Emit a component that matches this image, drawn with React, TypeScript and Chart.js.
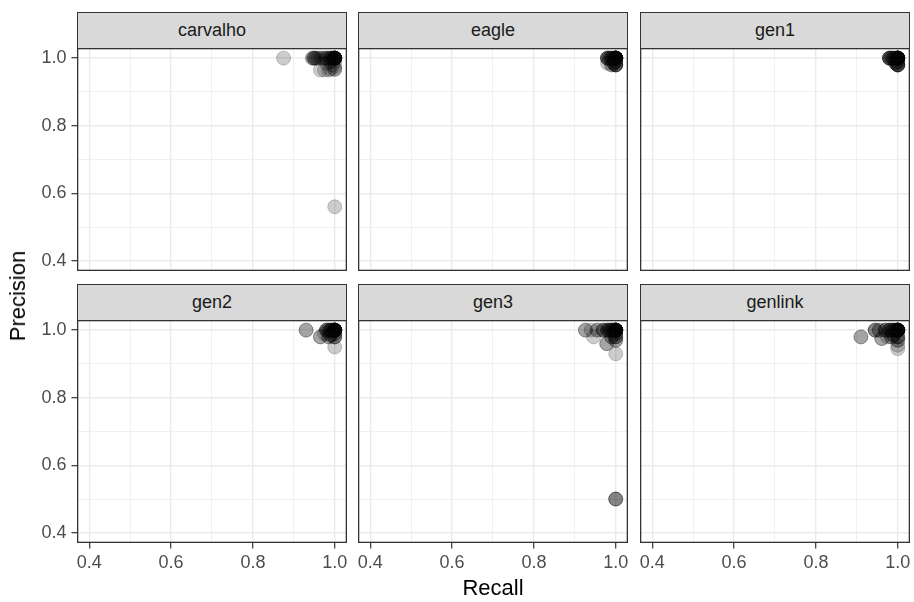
import React, { useEffect, useRef } from 'react';
import { Chart, registerables } from 'chart.js';

Chart.register(...registerables);

// ---------- data ----------
const facetNames = ['carvalho', 'eagle', 'gen1', 'gen2', 'gen3', 'genlink'];

const carvalhoRecall = [0.875, 1.0, 0.945, 0.947, 0.95, 0.95, 0.952, 0.955, 0.96, 0.965, 0.97, 0.975, 0.98, 0.98, 0.985, 0.99, 0.99, 0.995, 0.995, 0.99, 1, 1, 1, 1, 1, 1, 1, 1, 1, 1, 1, 1, 0.965, 0.975, 0.985, 0.99, 1, 1, 1, 0.995, 0.98, 0.99, 1];
const carvalhoPrecision = [1, 0.56, 1, 1, 1, 1, 1, 1, 1, 1, 1, 1, 1, 1, 1, 1, 1, 1, 1, 1, 1, 1, 1, 1, 1, 1, 1, 1, 1, 1, 1, 1, 0.965, 0.965, 0.965, 0.967, 0.967, 0.967, 0.975, 0.98, 0.985, 0.99, 0.99];

const eagleRecall = [0.98, 0.98, 0.98, 0.98, 0.985, 0.985, 0.99, 0.99, 0.99, 0.995, 0.995, 1, 1, 1, 1, 1, 1, 1, 1, 1, 1, 1, 1, 1, 1, 1, 1, 0.98, 0.99, 0.99, 1, 1, 1, 1, 1, 1, 1, 0.995, 0.995];
const eaglePrecision = [1, 1, 1, 1, 1, 1, 1, 1, 1, 1, 1, 1, 1, 1, 1, 1, 1, 1, 1, 1, 1, 1, 1, 1, 1, 1, 1, 0.985, 0.98, 0.98, 0.98, 0.98, 0.98, 0.98, 0.98, 0.99, 0.99, 0.985, 0.985];

const gen1Recall = [0.98, 0.98, 0.98, 0.98, 0.98, 0.985, 0.985, 0.99, 0.99, 0.99, 0.995, 0.995, 1, 1, 1, 1, 1, 1, 1, 1, 1, 1, 1, 1, 1, 1, 1, 1, 1, 1, 1, 1, 1, 1, 0.995, 0.995, 1, 1];
const gen1Precision = [1, 1, 1, 1, 1, 1, 1, 1, 1, 1, 1, 1, 1, 1, 1, 1, 1, 1, 1, 1, 1, 1, 1, 1, 1, 1, 1, 1, 0.98, 0.98, 0.98, 0.98, 0.98, 0.98, 0.985, 0.985, 0.99, 0.99];

const gen2Recall = [0.93, 0.93, 0.965, 0.965, 0.975, 0.98, 0.98, 0.98, 0.985, 0.985, 0.99, 0.99, 0.99, 0.995, 0.995, 1, 1, 1, 1, 1, 1, 1, 1, 1, 1, 1, 1, 1, 1, 0.985, 0.985, 0.99, 0.99, 1, 1, 1, 1, 1, 1];
const gen2Precision = [1, 1, 0.98, 0.98, 0.99, 1, 1, 1, 1, 1, 1, 1, 1, 1, 1, 1, 1, 1, 1, 1, 1, 1, 1, 1, 1, 1, 1, 1, 1, 0.98, 0.98, 0.985, 0.985, 0.98, 0.98, 0.98, 0.99, 0.99, 0.95];

const gen3Recall = [0.926, 0.926, 0.94, 0.946, 0.955, 0.955, 0.97, 0.97, 0.97, 0.98, 0.98, 0.98, 0.985, 0.985, 0.99, 0.99, 0.99, 0.995, 0.995, 1, 1, 1, 1, 1, 1, 1, 1, 1, 1, 1, 1, 1, 1, 0.978, 0.978, 0.99, 0.99, 1, 1, 1, 1, 1, 1, 1, 1, 1, 1, 1];
const gen3Precision = [1, 1, 1, 0.98, 1, 1, 1, 1, 1, 1, 1, 1, 1, 1, 1, 1, 1, 1, 1, 1, 1, 1, 1, 1, 1, 1, 1, 1, 1, 1, 1, 1, 1, 0.96, 0.96, 0.98, 0.98, 0.98, 0.98, 0.98, 0.97, 0.97, 0.99, 0.99, 0.93, 0.5, 0.5, 0.5];

const genlinkRecall = [0.91, 0.91, 0.945, 0.945, 0.945, 0.955, 0.955, 0.961, 0.961, 0.97, 0.97, 0.97, 0.975, 0.98, 0.98, 0.98, 0.985, 0.985, 0.99, 0.99, 0.99, 0.995, 0.995, 1, 1, 1, 1, 1, 1, 1, 1, 1, 1, 1, 1, 1, 1, 0.985, 0.985, 0.99, 0.99, 1, 1, 1, 1, 1, 1, 1];
const genlinkPrecision = [0.98, 0.98, 1, 1, 1, 1, 1, 0.975, 0.975, 1, 1, 1, 0.98, 1, 1, 1, 1, 1, 1, 1, 1, 1, 1, 1, 1, 1, 1, 1, 1, 1, 1, 1, 1, 1, 1, 1, 1, 0.98, 0.98, 0.985, 0.985, 0.98, 0.98, 0.98, 0.97, 0.97, 0.955, 0.945];

const recallByFacet = [carvalhoRecall, eagleRecall, gen1Recall, gen2Recall, gen3Recall, genlinkRecall];
const precisionByFacet = [carvalhoPrecision, eaglePrecision, gen1Precision, gen2Precision, gen3Precision, genlinkPrecision];

const majorBreaks = [0.4, 0.6, 0.8, 1.0];
const minorBreaks = [0.5, 0.7, 0.9];
const xTickLabels = ['0.4', '0.6', '0.8', '1.0'];
const yTickLabels = ['0.4', '0.6', '0.8', '1.0'];
const axisMin = 0.37;
const axisMax = 1.03;

const xTitle = 'Recall';
const yTitle = 'Precision';

// ---------- layout ----------
const PANEL_LEFTS = [77, 358, 640];
const PANEL_W = 270;
const STRIP_TOPS = [12, 284];
const STRIP_H = 36;
const PLOT_TOPS = [48, 320];
const PLOT_H = 223;
const Y_AXIS_W = 77;
const X_AXIS_H = 34;
const FONT = '"Liberation Sans", Arial, Helvetica, sans-serif';

const isMajor = (v: number) => majorBreaks.some((m) => Math.abs(m - v) < 1e-9);
const labelFor = (v: number, labels: string[]) => {
  const i = majorBreaks.findIndex((m) => Math.abs(m - v) < 1e-9);
  return i >= 0 ? labels[i] : '';
};
const allBreaks = [...majorBreaks, ...minorBreaks].sort((a, b) => a - b);

const borderPlugin = {
  id: 'panelBorder',
  afterDraw(chart: any) {
    const { ctx, chartArea } = chart;
    ctx.save();
    ctx.strokeStyle = '#333333';
    ctx.lineWidth = 1.3;
    ctx.strokeRect(chartArea.left + 0.65, chartArea.top + 0.65, chartArea.right - chartArea.left - 1.3, chartArea.bottom - chartArea.top - 1.3);
    ctx.restore();
  },
};

const zeroPadding = (s: any) => {
  s.paddingTop = 0;
  s.paddingBottom = 0;
  s.paddingLeft = 0;
  s.paddingRight = 0;
};

function Panel({ index }: { index: number }) {
  const ref = useRef<HTMLCanvasElement | null>(null);
  const row = Math.floor(index / 3);
  const col = index % 3;
  const showY = col === 0;
  const showX = row === 1;
  const left = PANEL_LEFTS[col] - (showY ? Y_AXIS_W : 0);
  const top = PLOT_TOPS[row];
  const width = PANEL_W + (showY ? Y_AXIS_W : 0);
  const height = PLOT_H + (showX ? X_AXIS_H : 0);

  useEffect(() => {
    if (!ref.current) return;
    const recall = recallByFacet[index];
    const precision = precisionByFacet[index];
    const gridCfg = (show: boolean) => ({
      color: '#EBEBEB',
      lineWidth: (c: any) => (c.tick && isMajor(c.tick.value) ? 1.4 : 0.7),
      drawTicks: show,
      tickLength: 5.5,
      tickWidth: 1.2,
      tickColor: (c: any) => (c.tick && isMajor(c.tick.value) ? '#333333' : 'rgba(0,0,0,0)'),
    });
    const chart = new Chart(ref.current, {
      type: 'scatter',
      data: {
        datasets: [
          {
            data: recall.map((r, i) => ({ x: r, y: precision[i] })),
            pointRadius: 7,
            pointBorderWidth: 1,
            backgroundColor: 'rgba(0,0,0,0.2)',
            borderColor: 'rgba(0,0,0,0.2)',
            pointHoverRadius: 7,
          },
        ],
      },
      options: {
        animation: false,
        responsive: false,
        devicePixelRatio: 1,
        layout: { padding: 0, autoPadding: false },
        events: [],
        plugins: { legend: { display: false }, tooltip: { enabled: false } },
        scales: {
          x: {
            type: 'linear',
            min: axisMin,
            max: axisMax,
            afterBuildTicks: (s: any) => {
              s.ticks = allBreaks.map((v) => ({ value: v }));
            },
            afterFit: (s: any) => {
              s.height = showX ? X_AXIS_H : 0;
              zeroPadding(s);
            },
            ticks: {
              display: showX,
              autoSkip: false,
              maxRotation: 0,
              minRotation: 0,
              padding: 4,
              color: '#4D4D4D',
              font: { family: FONT, size: 18 },
              callback: (v: any) => labelFor(Number(v), xTickLabels),
            },
            grid: gridCfg(showX),
            border: { display: false },
          },
          y: {
            type: 'linear',
            min: axisMin,
            max: axisMax,
            afterBuildTicks: (s: any) => {
              s.ticks = allBreaks.map((v) => ({ value: v }));
            },
            afterFit: (s: any) => {
              s.width = showY ? Y_AXIS_W : 0;
              zeroPadding(s);
            },
            ticks: {
              display: showY,
              autoSkip: false,
              padding: 5,
              color: '#4D4D4D',
              font: { family: FONT, size: 18 },
              callback: (v: any) => labelFor(Number(v), yTickLabels),
            },
            grid: gridCfg(showY),
            border: { display: false },
          },
        },
      },
      plugins: [borderPlugin],
    } as any);
    return () => chart.destroy();
  }, [index]);

  return (
    <canvas
      ref={ref}
      width={width}
      height={height}
      style={{ position: 'absolute', left, top, width, height }}
    />
  );
}

export default function App() {
  return (
    <div
      style={{
        position: 'fixed',
        left: 0,
        top: 0,
        width: 914,
        height: 602,
        background: '#FFFFFF',
        overflow: 'hidden',
        fontFamily: FONT,
      }}
    >
      {facetNames.map((name, i) => {
        const row = Math.floor(i / 3);
        const col = i % 3;
        return (
          <div
            key={'strip-' + name}
            style={{
              position: 'absolute',
              left: PANEL_LEFTS[col],
              top: STRIP_TOPS[row],
              width: PANEL_W,
              height: STRIP_H + 1,
              boxSizing: 'border-box',
              background: '#D9D9D9',
              border: '1.3px solid #333333',
              color: '#1A1A1A',
              fontSize: 18,
              display: 'flex',
              alignItems: 'center',
              justifyContent: 'center',
            }}
          >
            {name}
          </div>
        );
      })}
      {facetNames.map((name, i) => (
        <Panel key={'panel-' + name} index={i} />
      ))}
      <div
        style={{
          position: 'absolute',
          left: 493,
          top: 588,
          transform: 'translate(-50%, -50%)',
          fontSize: 22,
          color: '#000000',
          whiteSpace: 'nowrap',
        }}
      >
        {xTitle}
      </div>
      <div
        style={{
          position: 'absolute',
          left: 18,
          top: 296,
          transform: 'translate(-50%, -50%) rotate(-90deg)',
          fontSize: 22,
          color: '#000000',
          whiteSpace: 'nowrap',
        }}
      >
        {yTitle}
      </div>
    </div>
  );
}
